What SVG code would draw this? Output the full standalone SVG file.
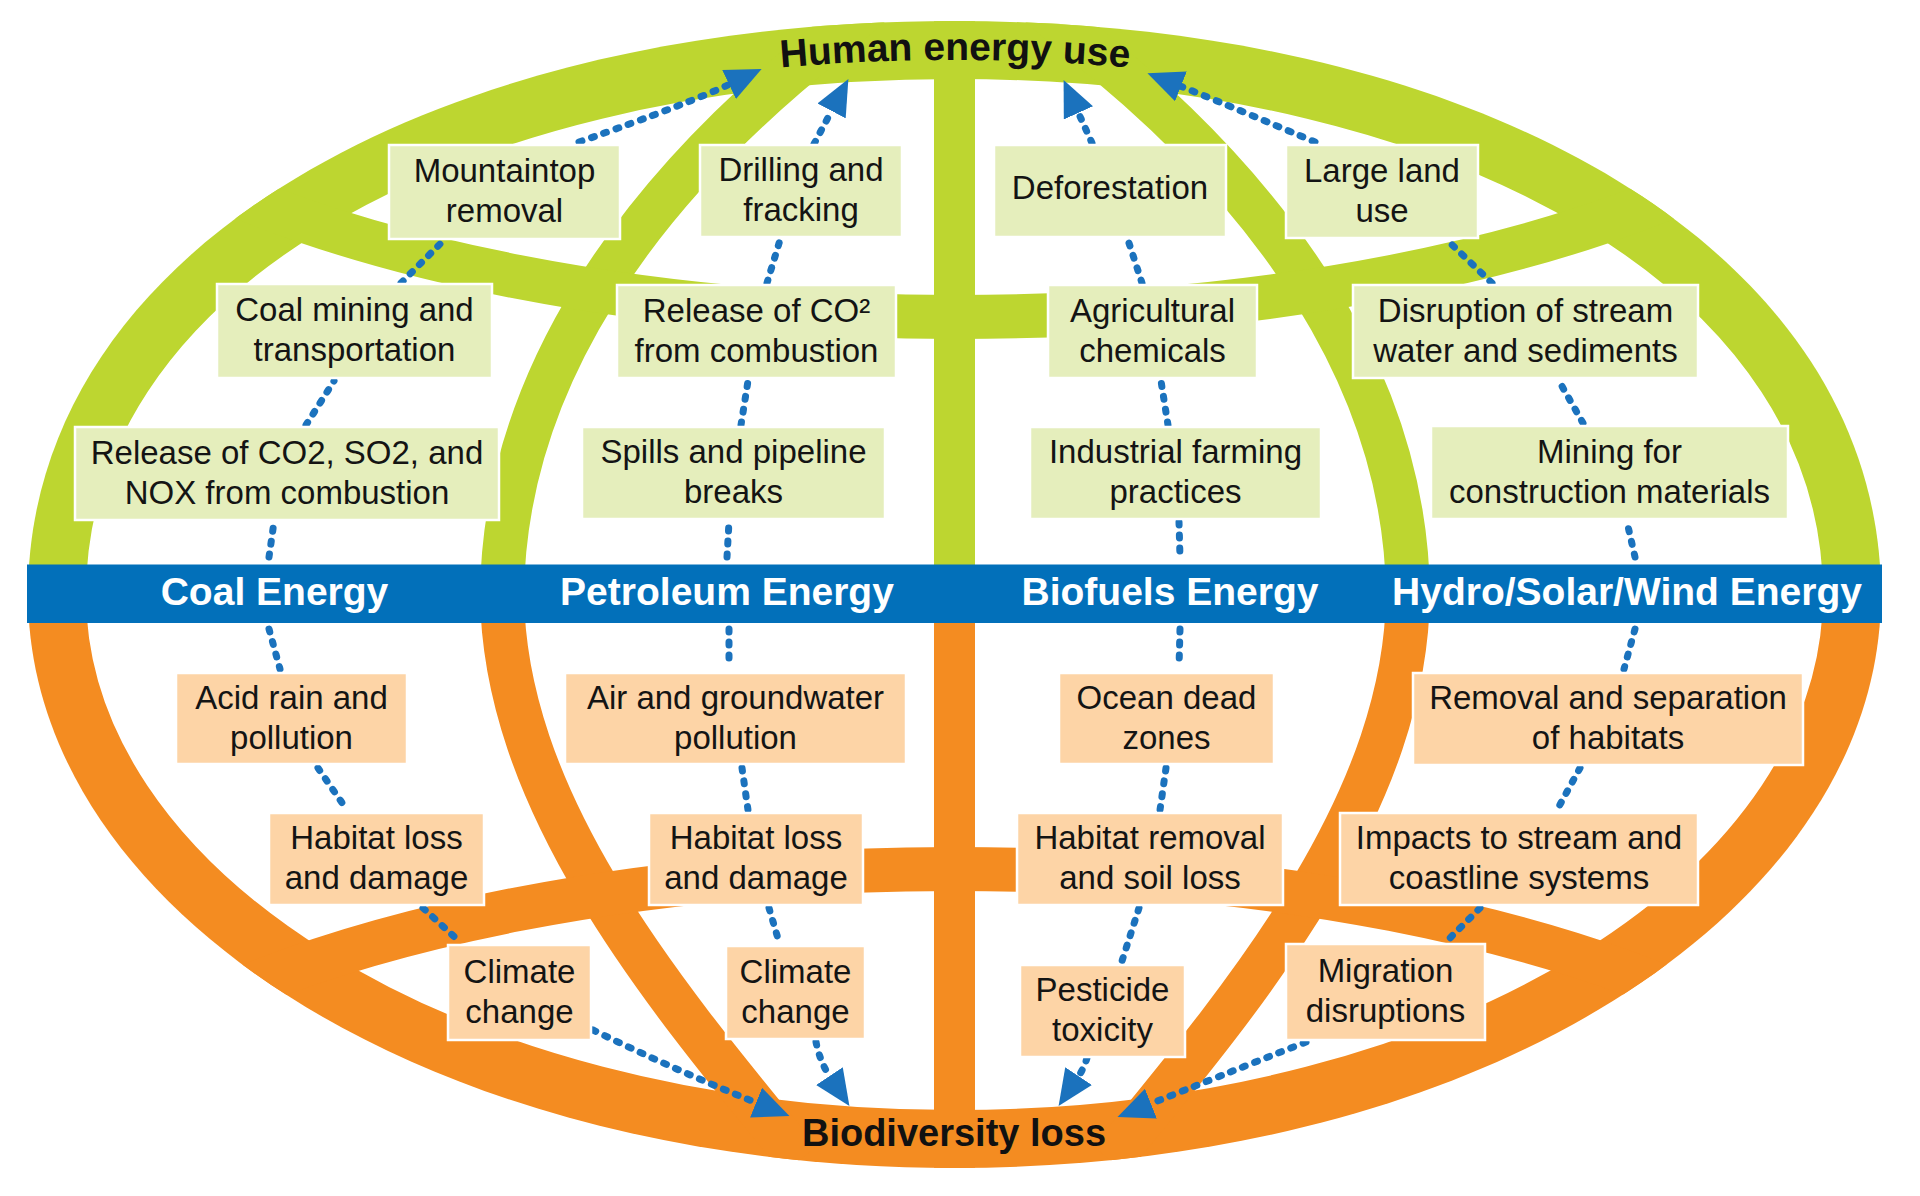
<svg xmlns="http://www.w3.org/2000/svg" width="1920" height="1196" viewBox="0 0 1920 1196">
<style>
.bg{fill:#ffffff}
.g-band{fill:none;stroke:#BDD630}
.o-band{fill:none;stroke:#F48C21}
.box-g{fill:#E5EEBC;stroke:#ffffff;stroke-width:2.5}
.box-o{fill:#FDD4A6;stroke:#ffffff;stroke-width:2.5}
.t{font-family:"Liberation Sans",Arial,sans-serif;font-size:33px;fill:#141414;text-anchor:middle}
.hd{font-family:"Liberation Sans",Arial,sans-serif;font-weight:bold;font-size:39px;fill:#111111;text-anchor:middle}
.bar-t{font-family:"Liberation Sans",Arial,sans-serif;font-weight:bold;font-size:39px;fill:#ffffff;text-anchor:middle}
.conn{fill:none;stroke:#1B72BD;stroke-width:7;stroke-linecap:round;stroke-dasharray:3 10}
.arr{marker-end:url(#arrow)}
</style>
<defs>
<clipPath id="topClip"><path d="M28,595.5 C28,250.5 430,21 954.5,21 C1479,21 1881,250.5 1881,595.5 Z"/></clipPath>
<clipPath id="botClip"><path d="M28,594 L1881,594 C1881,911.5 1479,1168 954.5,1168 C430,1168 28,911.5 28,594 Z"/></clipPath>
<marker id="arrow" markerUnits="userSpaceOnUse" markerWidth="36" markerHeight="32" viewBox="0 0 36 32" refX="1" refY="16" orient="auto"><path d="M0,0 L36,16 L0,32 Z" fill="#1B72BD"/></marker>
<path id="hp" d="M700,76 Q955,44 1210,76"/>
</defs>
<rect class="bg" x="0" y="0" width="1920" height="1196"/>

<g id="globe">
 <g id="globe-top" clip-path="url(#topClip)">
  <path class="g-band" stroke-width="116" d="M28,595.5 C28,250.5 430,21 954.5,21 C1479,21 1881,250.5 1881,595.5"/>
  <path class="g-band" stroke-width="44" d="M502,600 C502,380 640,190 830,40 L900,-20"/>
  <path class="g-band" stroke-width="44" d="M1408,600 C1408,380 1270,190 1080,40 L1010,-20"/>
  <path class="g-band" stroke-width="44" d="M195,177 A1000,400 0 0,0 1715,177"/>
  <path class="g-band" stroke-width="41" d="M954.5,0 L954.5,600"/>
 </g>
 <g id="globe-bottom" clip-path="url(#botClip)">
  <path class="o-band" stroke-width="116" d="M1881,594 C1881,911.5 1479,1168 954.5,1168 C430,1168 28,911.5 28,594"/>
  <path class="o-band" stroke-width="44" d="M502,590 C502,800 660,990 800,1160"/>
  <path class="o-band" stroke-width="44" d="M1408,590 C1408,800 1250,990 1110,1160"/>
  <path class="o-band" stroke-width="44" d="M195,1009 A1000,400 0 0,1 1715,1009"/>
  <path class="o-band" stroke-width="41" d="M954.5,590 L954.5,1196"/>
 </g>
 <rect id="equator-bar" x="27" y="564.5" width="1855" height="58.5" fill="#0270BA"/>
</g>

<g id="categories">
 <g id="cat-coal"><text class="bar-t" x="274.5" y="605">Coal Energy</text></g>
 <g id="cat-petroleum"><text class="bar-t" x="727" y="605">Petroleum Energy</text></g>
 <g id="cat-biofuels"><text class="bar-t" x="1170" y="605">Biofuels Energy</text></g>
 <g id="cat-hydro"><text class="bar-t" x="1627" y="605">Hydro/Solar/Wind Energy</text></g>
</g>

<g id="connectors">
 <path class="conn arr" d="M579,142 Q690,103 730,84"/>
 <path class="conn" d="M401,283 L444,240"/>
 <path class="conn" d="M306,425 L334,381"/>
 <path class="conn" d="M269,557 L274,522"/>
 <path class="conn" d="M269,629 L280,669"/>
 <path class="conn" d="M318,768 L347,810"/>
 <path class="conn" d="M423,908 L460,942"/>
 <path class="conn arr" d="M593,1030 Q675,1070 757,1103"/>

 <path class="conn arr" d="M814,144 L832,110"/>
 <path class="conn" d="M767,283 L780,240"/>
 <path class="conn" d="M741,425 L748,381"/>
 <path class="conn" d="M727,557 L729,522"/>
 <path class="conn" d="M729,629 L729,667"/>
 <path class="conn" d="M742,768 L748,810"/>
 <path class="conn" d="M769,908 L779,942"/>
 <path class="conn arr" d="M816,1042 Q820,1062 830,1077"/>

 <path class="conn arr" d="M1092,143 L1078,112"/>
 <path class="conn" d="M1142,283 L1128,240"/>
 <path class="conn" d="M1168,425 L1161,381"/>
 <path class="conn" d="M1179,522 L1180,557"/>
 <path class="conn" d="M1180,629 L1179,667"/>
 <path class="conn" d="M1166,768 L1160,810"/>
 <path class="conn" d="M1139,908 L1122,961"/>
 <path class="conn arr" d="M1087,1058 Q1084,1068 1078,1077"/>

 <path class="conn arr" d="M1315,142 Q1218,101 1180,86"/>
 <path class="conn" d="M1492,283 L1447,240"/>
 <path class="conn" d="M1583,423 L1559,381"/>
 <path class="conn" d="M1635,557 L1627,522"/>
 <path class="conn" d="M1635,629 L1624,669"/>
 <path class="conn" d="M1580,768 L1557,810"/>
 <path class="conn" d="M1480,908 L1446,942"/>
 <path class="conn arr" d="M1306,1042 Q1215,1078 1150,1104"/>
</g>

<g id="nodes">
 <g id="human-energy-use"><text class="hd"><textPath href="#hp" startOffset="50%">Human energy use</textPath></text></g>
 <g id="biodiversity-loss"><text class="hd" x="954" y="1146" style="font-size:38px">Biodiversity loss</text></g>

 <g id="mountaintop"><rect class="box-g" x="389" y="145" width="231" height="94"/><text class="t" x="504.5" y="182">Mountaintop</text><text class="t" x="504.5" y="222">removal</text></g>
 <g id="drilling"><rect class="box-g" x="700" y="145" width="202" height="92"/><text class="t" x="801" y="181">Drilling and</text><text class="t" x="801" y="221">fracking</text></g>
 <g id="deforestation"><rect class="box-g" x="994" y="145" width="232" height="92"/><text class="t" x="1110" y="199">Deforestation</text></g>
 <g id="large-land"><rect class="box-g" x="1286" y="145" width="192" height="93"/><text class="t" x="1382" y="181.5">Large land</text><text class="t" x="1382" y="221.5">use</text></g>

 <g id="coal-mining"><rect class="box-g" x="217" y="284" width="275" height="94"/><text class="t" x="354.5" y="321">Coal mining and</text><text class="t" x="354.5" y="361">transportation</text></g>
 <g id="release-co2"><rect class="box-g" x="617" y="285" width="279" height="93"/><text class="t" x="756.5" y="321.5">Release of CO²</text><text class="t" x="756.5" y="361.5">from combustion</text></g>
 <g id="agri-chem"><rect class="box-g" x="1048" y="285" width="209" height="93"/><text class="t" x="1152.5" y="321.5">Agricultural</text><text class="t" x="1152.5" y="361.5">chemicals</text></g>
 <g id="disruption"><rect class="box-g" x="1353" y="285" width="345" height="93"/><text class="t" x="1525.5" y="321.5">Disruption of stream</text><text class="t" x="1525.5" y="361.5">water and sediments</text></g>

 <g id="release-co2-so2"><rect class="box-g" x="75" y="427" width="424" height="93"/><text class="t" x="287" y="463.5">Release of CO2, SO2, and</text><text class="t" x="287" y="503.5">NOX from combustion</text></g>
 <g id="spills"><rect class="box-g" x="582" y="427" width="303" height="92"/><text class="t" x="733.5" y="463">Spills and pipeline</text><text class="t" x="733.5" y="503">breaks</text></g>
 <g id="industrial-farming"><rect class="box-g" x="1030" y="427" width="291" height="92"/><text class="t" x="1175.5" y="463">Industrial farming</text><text class="t" x="1175.5" y="503">practices</text></g>
 <g id="mining-construction"><rect class="box-g" x="1431" y="426" width="357" height="93"/><text class="t" x="1609.5" y="462.5">Mining for</text><text class="t" x="1609.5" y="502.5">construction materials</text></g>

 <g id="acid-rain"><rect class="box-o" x="176" y="673" width="231" height="91"/><text class="t" x="291.5" y="708.5">Acid rain and</text><text class="t" x="291.5" y="748.5">pollution</text></g>
 <g id="air-groundwater"><rect class="box-o" x="565" y="673" width="341" height="91"/><text class="t" x="735.5" y="708.5">Air and groundwater</text><text class="t" x="735.5" y="748.5">pollution</text></g>
 <g id="ocean-dead"><rect class="box-o" x="1059" y="673" width="215" height="91"/><text class="t" x="1166.5" y="708.5">Ocean dead</text><text class="t" x="1166.5" y="748.5">zones</text></g>
 <g id="removal-habitats"><rect class="box-o" x="1413" y="673" width="390" height="92"/><text class="t" x="1608" y="709">Removal and separation</text><text class="t" x="1608" y="749">of habitats</text></g>

 <g id="habitat-loss-coal"><rect class="box-o" x="269" y="813" width="215" height="92"/><text class="t" x="376.5" y="849">Habitat loss</text><text class="t" x="376.5" y="889">and damage</text></g>
 <g id="habitat-loss-petro"><rect class="box-o" x="649" y="813" width="214" height="92"/><text class="t" x="756" y="849">Habitat loss</text><text class="t" x="756" y="889">and damage</text></g>
 <g id="habitat-removal"><rect class="box-o" x="1017" y="813" width="266" height="92"/><text class="t" x="1150" y="849">Habitat removal</text><text class="t" x="1150" y="889">and soil loss</text></g>
 <g id="impacts-stream"><rect class="box-o" x="1340" y="813" width="358" height="92"/><text class="t" x="1519" y="849">Impacts to stream and</text><text class="t" x="1519" y="889">coastline systems</text></g>

 <g id="climate-coal"><rect class="box-o" x="448" y="945" width="143" height="95"/><text class="t" x="519.5" y="982.5">Climate</text><text class="t" x="519.5" y="1022.5">change</text></g>
 <g id="climate-petro"><rect class="box-o" x="726" y="946" width="139" height="93"/><text class="t" x="795.5" y="982.5">Climate</text><text class="t" x="795.5" y="1022.5">change</text></g>
 <g id="pesticide"><rect class="box-o" x="1020" y="965" width="165" height="92"/><text class="t" x="1102.5" y="1001">Pesticide</text><text class="t" x="1102.5" y="1041">toxicity</text></g>
 <g id="migration"><rect class="box-o" x="1286" y="944" width="199" height="96"/><text class="t" x="1385.5" y="982">Migration</text><text class="t" x="1385.5" y="1022">disruptions</text></g>
</g>
</svg>
